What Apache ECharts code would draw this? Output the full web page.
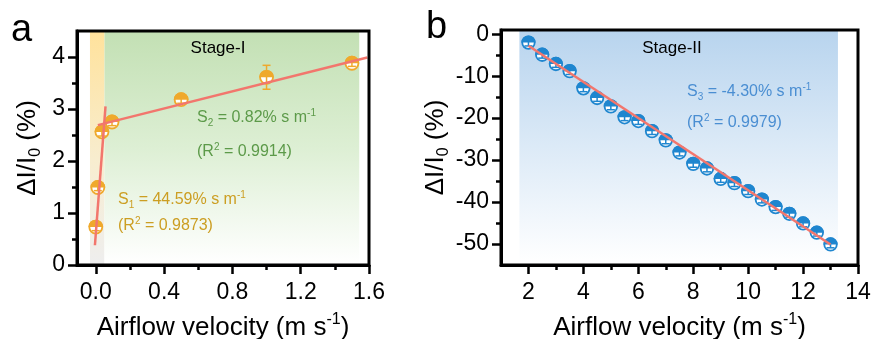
<!DOCTYPE html>
<html><head><meta charset="utf-8">
<script src="https://cdn.jsdelivr.net/npm/echarts@6/dist/echarts.min.js"></script>
<style>html,body{margin:0;padding:0;background:#fff}#c{width:876px;height:339px}</style>
</head><body><div id="c"></div>
<script>
const FONT = '"Liberation Sans", Arial, Helvetica, sans-serif';

// ---- Panel a (Stage-I) ----
const aVelocity = [0, 0.012, 0.036, 0.095, 0.5, 1.0, 1.5];
const aResponse = [0.73, 1.49, 2.56, 2.75, 3.18, 3.61, 3.88];
const aError    = [0.07, 0.06, 0.08, 0.07, 0.07, 0.23, 0.06];
const aFit1X = [-0.005, 0.057];
const aFit1Y = [0.38, 3.05];
const aFit2X = [0.012, 1.59];
const aFit2Y = [2.69, 3.99];
const aXTicks = [0, 0.4, 0.8, 1.2, 1.6];
const aXMinor = [0.2, 0.6, 1.0, 1.4];
const aYTicks = [0, 1, 2, 3, 4];
const aYMinor = [0.5, 1.5, 2.5, 3.5];
const aBandYellow = [-0.034, 0.051];
const aBandGreen = [0.051, 1.543];

// ---- Panel b (Stage-II) ----
const bVelocity = [2, 2.5, 3, 3.5, 4, 4.5, 5, 5.5, 6, 6.5, 7, 7.5, 8, 8.5, 9, 9.5, 10, 10.5, 11, 11.5, 12, 12.5, 13];
const bResponse = [-2.0, -4.9, -7.1, -8.8, -12.9, -15.2, -17.2, -19.8, -20.7, -23.1, -25.3, -28.2, -30.9, -32.0, -34.5, -35.5, -37.4, -39.4, -41.2, -42.8, -45.1, -47.3, -50.1];
const bError    = [0.8, 0.8, 0.8, 0.8, 0.8, 0.8, 0.8, 0.8, 0.8, 0.8, 0.8, 0.8, 0.8, 0.8, 0.8, 0.8, 0.8, 0.8, 0.8, 0.8, 0.8, 0.8, 0.8];
const bFitX = [2, 13];
const bFitY = [-2.76, -50.1];
const bXTicks = [2, 4, 6, 8, 10, 12, 14];
const bXMinor = [3, 5, 7, 9, 11, 13];
const bYTicks = [0, -10, -20, -30, -40, -50];
const bYMinor = [-5, -15, -25, -35, -45];
const bBandBlue = [1.67, 13.27];

const ORANGE = '#EFA92C', BLUE = '#1F86CF', FITC = '#F2766D';
const GOLD = '#CC9E22', GREEN = '#5C9A49', TBLUE = '#4A8ED2';

const zip = (xs, ys) => xs.map((x, i) => [x, ys[i]]);
const zip3 = (xs, ys, es) => xs.map((x, i) => [x, ys[i], es[i]]);

function richFor(size, color) {
  const s = Math.round(size * 0.62);
  const off = Math.round(size * 0.6);
  return {
    n: { fontSize: size, fontFamily: FONT, color, fill: color, lineHeight: size, verticalAlign: 'middle' },
    sup: { fontSize: s, fontFamily: FONT, color, fill: color, lineHeight: s, padding: [0, 0, off, 0], verticalAlign: 'middle' },
    sub: { fontSize: s, fontFamily: FONT, color, fill: color, lineHeight: s, padding: [off, 0, 0, 0], verticalAlign: 'middle' }
  };
}

function axis(dim, gridIndex, min, max, major, minorVals, fmt, name, nameGap, labelMargin) {
  const pos = dim === 'x' ? 'bottom' : 'left';
  const main = {
    gridIndex, type: 'value', min, max, position: pos, z: 10,
    axisLine: { show: true, onZero: false, lineStyle: { color: '#000', width: 3 } },
    axisTick: { show: true, customValues: major, length: 9, lineStyle: { color: '#000', width: 2.5 } },
    axisLabel: { show: true, customValues: major, formatter: fmt, fontSize: 23, color: '#000', fontFamily: FONT, margin: labelMargin },
    splitLine: { show: false },
    name, nameLocation: 'middle', nameGap,
    nameTextStyle: { fontSize: 26, fontFamily: FONT, color: '#000', rich: richFor(26, '#000') }
  };
  const minor = {
    gridIndex, type: 'value', min, max, position: pos, z: 10,
    axisLine: { show: false, onZero: false },
    axisTick: { show: true, customValues: minorVals, length: 5, lineStyle: { color: '#000', width: 2.5 } },
    axisLabel: { show: false },
    splitLine: { show: false }
  };
  return [main, minor];
}

const XNAME = '{n|Airflow velocity (m s}{sup|-1}{n|)}';
const YNAME = '{n|\u0394I/I}{sub|0}{n| (%)}';

const xAxes = [
  ...axis('x', 0, -0.11, 1.6, aXTicks, aXMinor, v => v.toFixed(1), XNAME, 50, 16),
  ...axis('x', 1, 1, 14, bXTicks, bXMinor, v => String(v), XNAME, 50, 16)
];
const yAxes = [
  ...axis('y', 0, 0, 4.5, aYTicks, aYMinor, v => String(v), YNAME, 36, 12),
  ...axis('y', 1, -55, 1, bYTicks, bYMinor, v => String(v), YNAME, 51, 12)
];

function grad(stops) {
  return { type: 'linear', x: 0, y: 0, x2: 0, y2: 1, colorStops: stops.map(s => ({ offset: s[0], color: s[1] })) };
}

function errRender(color) {
  return function (params, api) {
    const x = api.value(0), y = api.value(1), e = api.value(2);
    const t = api.coord([x, y + e]), b = api.coord([x, y - e]);
    const hw = 4;
    const style = { stroke: color, lineWidth: 1.5, fill: null };
    return { type: 'group', children: [
      { type: 'line', shape: { x1: t[0], y1: t[1], x2: b[0], y2: b[1] }, style },
      { type: 'line', shape: { x1: t[0] - hw, y1: t[1], x2: t[0] + hw, y2: t[1] }, style },
      { type: 'line', shape: { x1: b[0] - hw, y1: b[1], x2: b[0] + hw, y2: b[1] }, style }
    ] };
  };
}

const HALF = 'path://M0,10 A10,10 0 0 1 20,10 Z';

function markerSeries(xi, yi, data, errData, color, size) {
  const outer = size + 1.8;
  return [
    { type: 'scatter', xAxisIndex: xi, yAxisIndex: yi, data, symbol: 'circle', symbolSize: size,
      itemStyle: { color: '#fff', borderColor: color, borderWidth: 1.8, opacity: 1 }, z: 3, silent: true },
    { type: 'scatter', xAxisIndex: xi, yAxisIndex: yi, data, symbol: HALF, symbolSize: [outer, outer / 2],
      symbolOffset: [0, -outer / 4], itemStyle: { color, opacity: 1 }, z: 4, silent: true },
    { type: 'custom', xAxisIndex: xi, yAxisIndex: yi, data: errData, renderItem: errRender(color), z: 5, silent: true }
  ];
}

function fitSeries(xi, yi, xs, ys) {
  return { type: 'line', xAxisIndex: xi, yAxisIndex: yi, data: zip(xs, ys), showSymbol: false, symbol: 'none',
    lineStyle: { color: FITC, width: 2.5 }, z: 6, silent: true };
}

const series = [
  { type: 'line', xAxisIndex: 0, yAxisIndex: 0, data: [], z: 1, silent: true,
    markArea: { silent: true, data: [
      [{ xAxis: aBandYellow[0], yAxis: 0.02, itemStyle: { color: grad([[0, '#FFE29C'], [0.55, '#F8EDCF'], [1, '#EEEEEE']]) } },
       { xAxis: aBandYellow[1], yAxis: 4.48 }],
      [{ xAxis: aBandGreen[0], yAxis: 0.02, itemStyle: { color: grad([[0, '#C3E0B4'], [0.5, '#DDEFD4'], [1, '#FFFFFF']]) } },
       { xAxis: aBandGreen[1], yAxis: 4.48 }]
    ] } },
  { type: 'line', xAxisIndex: 2, yAxisIndex: 2, data: [], z: 1, silent: true,
    markArea: { silent: true, data: [
      [{ xAxis: bBandBlue[0], yAxis: -54.6, itemStyle: { color: grad([[0, '#B8D4EE'], [0.5, '#DCEAF7'], [1, '#FFFFFF']]) } },
       { xAxis: bBandBlue[1], yAxis: 0.85 }]
    ] } },
  ...markerSeries(0, 0, zip(aVelocity, aResponse), zip3(aVelocity, aResponse, aError), ORANGE, 13),
  ...markerSeries(2, 2, zip(bVelocity, bResponse), zip3(bVelocity, bResponse, bError), BLUE, 12.5),
  fitSeries(0, 0, aFit1X, aFit1Y),
  fitSeries(0, 0, aFit2X, aFit2Y),
  fitSeries(2, 2, bFitX, bFitY)
];

function annot(x, y, text, color, size, align) {
  return { type: 'text', x, y, z: 20, silent: true,
    style: { text, rich: richFor(size, color), fill: color, font: size + 'px ' + FONT, align: align || 'left', verticalAlign: 'middle' } };
}

const option = {
  animation: false,
  grid: [
    { left: 77, top: 31, width: 292, height: 234, show: true, borderColor: '#000', borderWidth: 3, backgroundColor: 'transparent', z: 10, containLabel: false, outerBoundsMode: 'none' },
    { left: 501, top: 30, width: 357, height: 235, show: true, borderColor: '#000', borderWidth: 3, backgroundColor: 'transparent', z: 10, containLabel: false, outerBoundsMode: 'none' }
  ],
  xAxis: xAxes,
  yAxis: yAxes,
  series,
  graphic: [
    annot(11, 31, '{n|a}', '#000', 38),
    annot(426, 28, '{n|b}', '#000', 38),
    annot(218, 48, '{n|Stage-I}', '#000', 17, 'center'),
    annot(672, 48, '{n|Stage-II}', '#000', 17, 'center'),
    annot(197, 118, '{n|S}{sub|2}{n| = 0.82% s m}{sup|-1}', GREEN, 16),
    annot(197, 152, '{n|(R}{sup|2}{n| = 0.9914)}', GREEN, 16),
    annot(118, 200, '{n|S}{sub|1}{n| = 44.59% s m}{sup|-1}', GOLD, 16),
    annot(118, 226, '{n|(R}{sup|2}{n| = 0.9873)}', GOLD, 16),
    annot(687, 92, '{n|S}{sub|3}{n| = -4.30% s m}{sup|-1}', TBLUE, 16),
    annot(687, 123, '{n|(R}{sup|2}{n| = 0.9979)}', TBLUE, 16)
  ]
};

const chart = echarts.init(document.getElementById('c'), null, { renderer: 'canvas' });
chart.setOption(option);
</script>
</body></html>
